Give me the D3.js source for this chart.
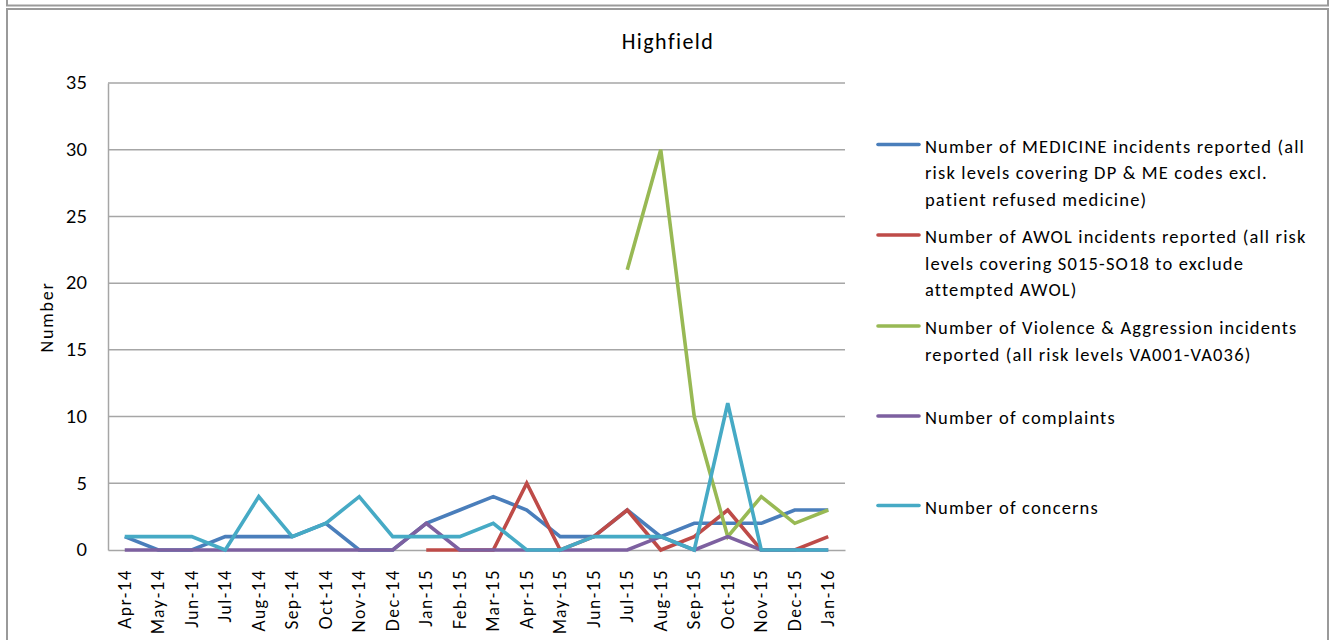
<!DOCTYPE html>
<html><head><meta charset="utf-8">
<script src="https://cdn.jsdelivr.net/npm/d3@7"></script>
<style>
body{margin:0;background:#fff;}
svg{display:block;font-family:Carlito, Lato, "Open Sans", sans-serif;}
</style></head>
<body><svg id="c" width="1339" height="640"></svg>
<script>
const months = ["Apr-14","May-14","Jun-14","Jul-14","Aug-14","Sep-14","Oct-14","Nov-14","Dec-14","Jan-15","Feb-15","Mar-15","Apr-15","May-15","Jun-15","Jul-15","Aug-15","Sep-15","Oct-15","Nov-15","Dec-15","Jan-16"];
const medicine   = [1,0,0,1,1,1,2,0,0,2,3,4,3,1,1,3,1,2,2,2,3,3];
const awol       = [null,null,null,null,null,null,null,null,null,0,0,0,5,0,1,3,0,1,3,0,0,1];
const violence   = [null,null,null,null,null,null,null,null,null,null,null,null,null,null,null,21,30,10,1,4,2,3];
const complaints = [0,0,0,0,0,0,0,0,0,2,0,0,0,0,0,0,1,0,1,0,0,0];
const concerns   = [1,1,1,0,4,1,2,4,1,1,1,2,0,0,1,1,1,0,11,0,0,0];
const yTicks = [0,5,10,15,20,25,30,35];
const seriesNames = [
  ["Number of MEDICINE incidents reported (all","risk levels covering DP & ME codes excl.","patient refused medicine)"],
  ["Number of AWOL incidents reported (all risk","levels covering S015-SO18 to exclude","attempted AWOL)"],
  ["Number of Violence & Aggression incidents","reported (all risk levels VA001-VA036)"],
  ["Number of complaints"],
  ["Number of concerns"]
];
const seriesColors = ["#4a7ebb","#be4b48","#98b954","#7d60a0","#46aac5"];
const seriesData = [medicine, awol, violence, complaints, concerns];

const svg = d3.select("#c");
const FONT = "Lato, sans-serif";
// frames
svg.append("rect").attr("x",7).attr("y",-20).attr("width",1321).attr("height",25.5)
  .attr("fill","none").attr("stroke","#9a9a9a").attr("stroke-width",2);
svg.append("rect").attr("x",7).attr("y",9).attr("width",1321).attr("height",700)
  .attr("fill","#fff").attr("stroke","#9a9a9a").attr("stroke-width",2);

const L=108, R=845, T=83, B=550;
const x = d3.scaleBand().domain(months).range([L,R]);
const y = d3.scaleLinear().domain([0,35]).range([B,T]);

// gridlines
svg.append("g").selectAll("line").data(yTicks.filter(d=>d>0)).join("line")
  .attr("x1",L).attr("x2",R).attr("y1",d=>y(d)).attr("y2",d=>y(d))
  .attr("stroke","#a6a6a6").attr("stroke-width",1.5);

// y axis
const ya = svg.append("g").attr("transform",`translate(${L},0)`)
  .call(d3.axisLeft(y).tickValues(yTicks).tickSize(0).tickPadding(21));
ya.select(".domain").attr("stroke","#a6a6a6").attr("stroke-width",1.5);
ya.selectAll("text").attr("font-size",18).attr("fill","#000").style("font-family",FONT);

// x axis
const xa = svg.append("g").attr("transform",`translate(0,${B})`)
  .call(d3.axisBottom(x).tickSize(0).tickPadding(0));
xa.select(".domain").attr("stroke","#a6a6a6").attr("stroke-width",1.5);
xa.selectAll("text").attr("font-size",16.5).attr("fill","#000")
  .style("font-family",FONT).style("letter-spacing","1.4px")
  .attr("text-anchor","end").attr("transform","translate(0,19) rotate(-90)")
  .attr("dy","0.35em").attr("dx","0").attr("y",0);

// y title
svg.append("text").attr("transform","translate(53,317) rotate(-90)")
  .attr("text-anchor","middle").attr("font-size",18).style("letter-spacing","1.8px").text("Number");

// title
svg.append("text").attr("x",668).attr("y",48.5).attr("text-anchor","middle")
  .attr("font-size",22).style("letter-spacing","1.4px").text("Highfield");

// lines
const line = d3.line().defined(d=>d.v!==null)
  .x(d=>x(d.m)+x.bandwidth()/2).y(d=>y(d.v));
seriesData.forEach((s,i)=>{
  svg.append("path").datum(s.map((v,j)=>({m:months[j],v})))
    .attr("d",line).attr("fill","none").attr("stroke",seriesColors[i])
    .attr("stroke-width",3.6).attr("stroke-linejoin","miter");
});

// legend
const legY = [144.5,235,326,416,505.5];
seriesNames.forEach((lines,i)=>{
  const g = svg.append("g");
  g.append("line").attr("x1",878).attr("x2",919).attr("y1",legY[i]).attr("y2",legY[i])
    .attr("stroke",seriesColors[i]).attr("stroke-width",3.6).attr("stroke-linecap","round");
  lines.forEach((t,k)=>{
    g.append("text").attr("x",925).attr("y",legY[i]+8+k*26.5)
      .attr("font-size",18.5).style("letter-spacing","1.15px").attr("fill","#000").text(t);
  });
});
</script></body></html>
